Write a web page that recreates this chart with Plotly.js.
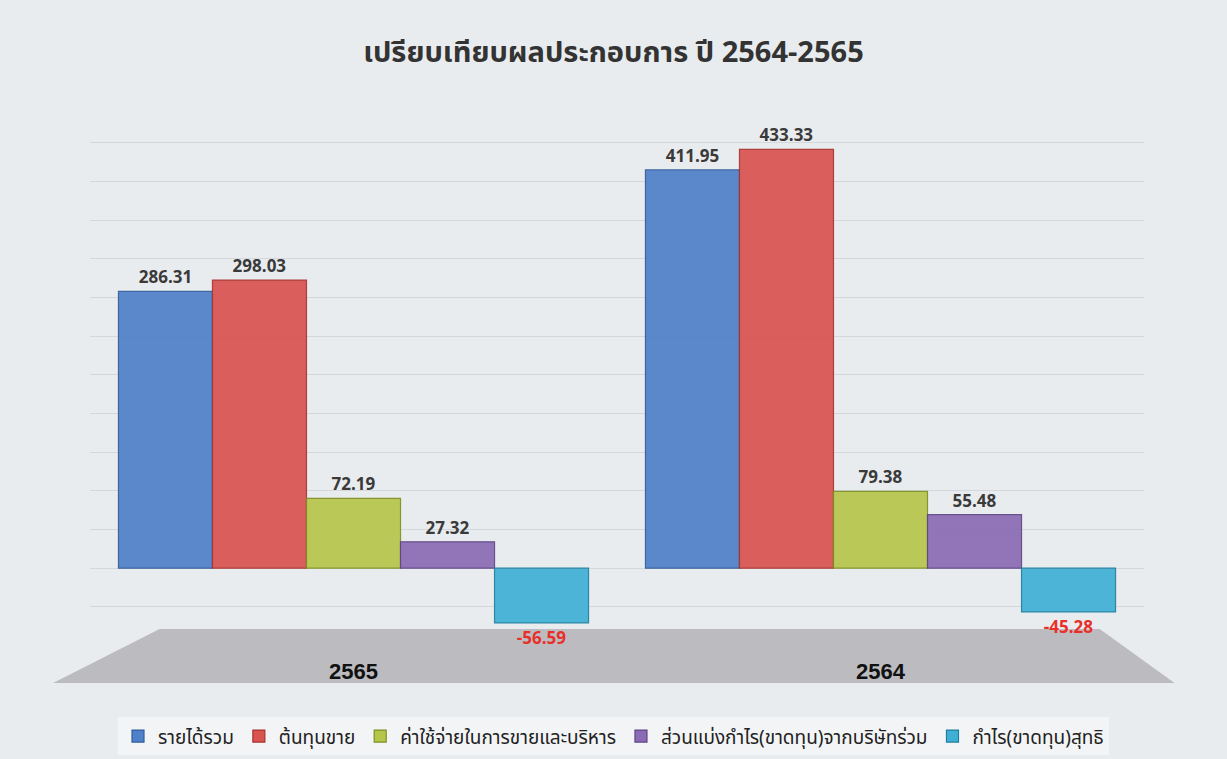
<!DOCTYPE html>
<html>
<head>
<meta charset="utf-8">
<script src="https://cdn.plot.ly/plotly-3.0.1.min.js"></script>
<style>
  html, body { margin: 0; padding: 0; background: #e9ecee; }
  #chart { width: 1227px; height: 759px; }
</style>
</head>
<body>
<div id="chart"></div>
<script>
// Years on the category axis
const years = ['2565', '2564'];

// Series names (legend)
const seriesNames = [
    'รายได้รวม',
    'ต้นทุนขาย',
    'ค่าใช้จ่ายในการขายและบริหาร',
    'ส่วนแบ่งกำไร(ขาดทุน)จากบริษัทร่วม',
    'กำไร(ขาดทุน)สุทธิ'
];

// Values per series, ordered as in years
const revenue = [286.31, 411.95];
const costOfSales = [298.03, 433.33];
const sellingAdmin = [72.19, 79.38];
const shareOfProfit = [27.32, 55.48];
const netProfit = [-56.59, -45.28];

const seriesValues = [revenue, costOfSales, sellingAdmin, shareOfProfit, netProfit];
const colors = ['#4f80c8', '#d9534f', '#b6c64a', '#8a6bb4', '#3fb0d4'];
const lineColors = ['#2f5c9c', '#a8322f', '#7f8e22', '#5e4486', '#1f7e9e'];

const thaiFont = '"Noto Sans Thai", "Noto Sans Thai UI", Tahoma, "Noto Sans", "DejaVu Sans", sans-serif';

const data = seriesValues.map((vals, i) => ({
    type: 'bar',
    name: seriesNames[i],
    x: years,
    y: vals,
    text: vals.map(v => v.toFixed(2)),
    textposition: 'outside',
    cliponaxis: false,
    textfont: {
        family: '"Open Sans", "DejaVu Sans", sans-serif',
        size: 17,
        color: vals.map(v => v < 0 ? '#e8302a' : '#3a3a3a'),
        weight: 'bold'
    },
    marker: {
        color: colors[i],
        opacity: 0.92,
        line: { color: lineColors[i], width: 1.2 }
    },
    hoverinfo: 'name+y'
}));

const layout = {
    width: 1227,
    height: 759,
    title: {
        text: 'เปรียบเทียบผลประกอบการ ปี 2564-2565',
        x: 0.5,
        xanchor: 'center',
        y: 0.932,
        yanchor: 'middle',
        font: { family: thaiFont, size: 29, color: '#333333', weight: 'bold' }
    },
    barmode: 'group',
    bargap: 0.108,
    bargroupgap: 0,
    paper_bgcolor: '#e9ecee',
    plot_bgcolor: 'rgba(0,0,0,0)',
    margin: { l: 90, r: 83, t: 138, b: 127 },
    xaxis: {
        type: 'category',
        showgrid: false,
        showline: false,
        zeroline: false,
        ticks: '',
        ticklabelstandoff: 24,
        tickfont: { family: '"Liberation Sans", Arial, sans-serif', size: 22, color: '#111111', weight: 'bold' }
    },
    yaxis: {
        range: [-66, 445],
        dtick: 40,
        showgrid: true,
        gridcolor: 'rgba(195,200,205,0.55)',
        gridwidth: 1,
        zeroline: false,
        showticklabels: false,
        showline: false
    },
    shapes: [
        {
            // gray floor under the bars
            type: 'path',
            xref: 'paper',
            yref: 'paper',
            path: 'M 0.066 0.006 L 0.958 0.006 L 1.029 -0.103 L -0.035 -0.103 Z',
            fillcolor: '#bcbcc0',
            line: { width: 0 },
            layer: 'below'
        }
    ],
    legend: {
        orientation: 'h',
        x: 0.5,
        xanchor: 'center',
        xref: 'container',
        yref: 'container',
        y: 0.03,
        yanchor: 'middle',
        bgcolor: 'rgba(255,255,255,0.45)',
        font: { family: thaiFont, size: 19, color: '#222222' },
        itemwidth: 30,
        tracegroupgap: 0
    },
    showlegend: true
};

Plotly.newPlot('chart', data, layout, { displayModeBar: false, staticPlot: true });
</script>
</body>
</html>
